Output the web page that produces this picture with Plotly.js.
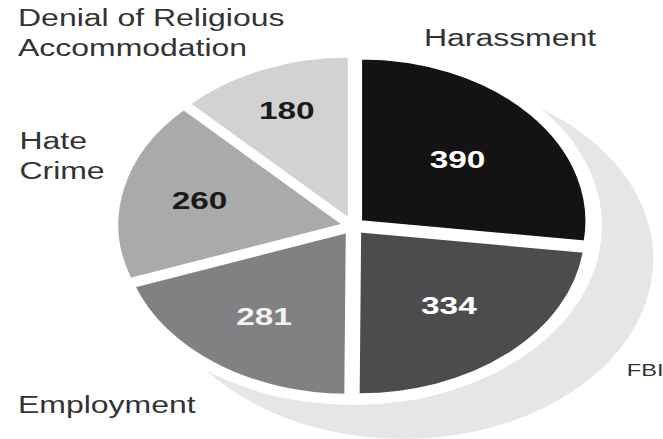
<!DOCTYPE html>
<html>
<head>
<meta charset="utf-8">
<script src="https://cdn.plot.ly/plotly-3.0.1.min.js"></script>
<style>
  html, body { margin: 0; padding: 0; background: #fff; overflow: hidden; }
  #wrap { width: 663px; height: 439px; overflow: hidden; }
  #chart { transform-origin: 0 0; }
</style>
</head>
<body>
<div id="wrap"><div id="chart"></div></div>
<script>
// Data
var categories = ["Harassment", "FBI", "Employment", "Hate Crime", "Denial of Religious Accommodation"];
var values = [390, 334, 281, 260, 180];
var sliceColors = ["#131313", "#4c4c4e", "#818183", "#aaaaaa", "#d2d2d2"];
var textColors = ["#ffffff", "#ffffff", "#f2f2f2", "#1a1a1a", "#1a1a1a"];
var labelLines = [["Harassment"], ["FBI"], ["Employment"], ["Hate", "Crime"], ["Denial of Religious", "Accommodation"]];
var shadowValues = [1];
var gapValues = [1];

// The reference is horizontally stretched; draw narrower and stretch the page.
var S = 1.39;
var H = 439;
var W = Math.round(663 / S);
document.getElementById('chart').style.transform = 'scaleX(' + S + ')';

function dom(cx, cy, r) {
  return { x: [(cx - r) / W, (cx + r) / W], y: [1 - (cy + r) / H, 1 - (cy - r) / H] };
}

var cx = 254, cy = 226;

var shadow = {
  type: 'pie', values: shadowValues, labels: ['shadow'], sort: false,
  marker: { colors: ['#e6e6e6'] }, textinfo: 'none', hoverinfo: 'skip',
  showlegend: false, domain: dom(290, 259, 180)
};
var gap = {
  type: 'pie', values: gapValues, labels: ['gap'], sort: false,
  marker: { colors: ['#ffffff'] }, textinfo: 'none', hoverinfo: 'skip',
  showlegend: false, domain: dom(cx, cy, 179)
};
var main = {
  type: 'pie', values: values, labels: categories, sort: false,
  direction: 'clockwise', rotation: 0,
  pull: values.map(function () { return 0.045; }),
  marker: { colors: sliceColors, line: { width: 2, color: '#ffffff' } },
  textinfo: 'value', textposition: 'inside', insidetextorientation: 'horizontal',
  insidetextfont: { family: 'Liberation Sans, Arial, sans-serif', size: 24, color: textColors, weight: 'bold' },
  showlegend: false, domain: dom(cx, cy, 170)
};

var labelPos = [
  { x: 303, y: 38 },
  { x: 449, y: 370, size: 17 },
  { x: 11, y: 405 },
  { x: 12, y: 156 },
  { x: 11, y: 33 }
];
var annotations = categories.map(function (c, i) {
  var p = labelPos[i];
  return {
    xref: 'paper', yref: 'paper', x: p.x / W, y: 1 - p.y / H,
    xanchor: 'left', yanchor: 'middle', align: 'left', showarrow: false,
    text: labelLines[i].join('<br>'),
    font: { family: 'Liberation Sans, Arial, sans-serif', size: p.size || 23, color: '#333333' }
  };
});

var layout = {
  width: W, height: H,
  margin: { l: 0, r: 0, t: 0, b: 0 },
  paper_bgcolor: '#ffffff',
  showlegend: false,
  annotations: annotations
};

Plotly.newPlot('chart', [shadow, gap, main], layout, { displayModeBar: false, staticPlot: true });
</script>
</body>
</html>
